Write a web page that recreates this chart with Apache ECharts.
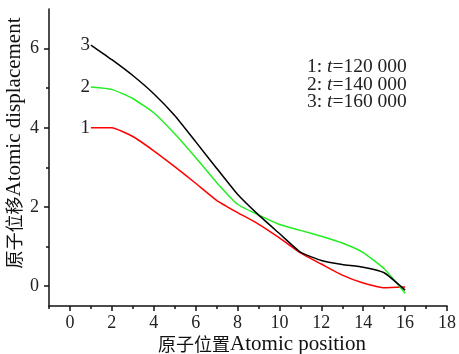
<!DOCTYPE html>
<html><head><meta charset="utf-8">
<script src="https://cdn.jsdelivr.net/npm/echarts@6/dist/echarts.min.js"></script>
<style>html,body{margin:0;padding:0;background:#fff}#c{width:459px;height:354px}</style>
</head><body><div id="c"></div>
<script>
const positions = [1,2,3,4,5,6,7,8,9,10,11,12,13,14,15,16];
const series1 = [4.0,4.0,3.78,3.42,3.02,2.6,2.17,1.86,1.57,1.22,0.84,0.56,0.28,0.08,-0.04,-0.02];
const series2 = [5.03,4.97,4.74,4.38,3.85,3.25,2.62,2.07,1.80,1.56,1.41,1.26,1.09,0.85,0.44,-0.18];
const series3 = [6.09,5.72,5.32,4.86,4.31,3.65,2.98,2.32,1.80,1.33,0.86,0.65,0.55,0.48,0.34,-0.10];
const seriesNames = ['1','2','3'];
const legendLines = [['1','120 000'],['2','140 000'],['3','160 000']];
const xMajor = [0,2,4,6,8,10,12,14,16,18];
const xMinor = [-1,1,3,5,7,9,11,13,15,17];
const yMajor = [0,2,4,6];
const yMinor = [1,3,5];
const xName = ['原子位置','Atomic position'];
const yName = ['原子位移','Atomic displacement'];

const serif = '"Liberation Serif","Times New Roman",serif';
const cjk = '"Noto Sans CJK SC",sans-serif';
const chart = echarts.init(document.getElementById('c'));
function mk(name, vals, color){
  return {
    type:'line', name, xAxisIndex:0, yAxisIndex:0,
    data: vals.map((v,i)=>[positions[i], v]),
    showSymbol:false, symbol:'none', smooth:0.15,
    lineStyle:{color, width:1.5}, itemStyle:{color},
    markPoint:{
      symbol:'circle', symbolSize:0, silent:true, animation:false,
      data:[{coord:[positions[0], vals[0]], value:name}],
      label:{show:true, position:'left', distance:1, formatter:name,
        fontFamily:serif, fontSize:19, color:'#222'}
    },
    animation:false
  };
}
const nameRich = {
  c:{fontFamily:cjk, fontSize:18, fill:'#111', fontWeight:'normal'},
  l:{fontFamily:serif, fontSize:21, fill:'#111'}
};
chart.setOption({
  animation:false,
  grid:{left:49, right:10, top:9, bottom:48, containLabel:false},
  xAxis:[
    {type:'value', min:-1, max:18, position:'bottom',
      axisLine:{show:true, onZero:false, lineStyle:{color:'#111', width:1.5}},
      splitLine:{show:false},
      axisTick:{show:true, customValues:xMajor, length:5, lineStyle:{color:'#111', width:1.5}},
      axisLabel:{customValues:xMajor, fontFamily:serif, fontSize:18, color:'#222', margin:8}
    },
    {type:'value', min:-1, max:18, position:'bottom', axisLine:{show:false, onZero:false},
      axisTick:{show:true, customValues:xMinor, length:3, lineStyle:{color:'#111', width:1.5}},
      axisLabel:{show:false}, splitLine:{show:false}}
  ],
  yAxis:[
    {type:'value', min:-0.5, max:7, position:'left',
      axisLine:{show:true, onZero:false, lineStyle:{color:'#111', width:1.5}},
      splitLine:{show:false},
      axisTick:{show:true, customValues:yMajor, length:5, lineStyle:{color:'#111', width:1.5}},
      axisLabel:{customValues:yMajor, fontFamily:serif, fontSize:18, color:'#222', margin:10}
    },
    {type:'value', min:-0.5, max:7, position:'left', axisLine:{show:false, onZero:false},
      axisTick:{show:true, customValues:yMinor, length:3, lineStyle:{color:'#111', width:1.5}},
      axisLabel:{show:false}, splitLine:{show:false}}
  ],
  graphic:[{
    type:'text', left:307, top:57,
    style:{
      text: legendLines.map(l=>`{n|${l[0]}: }{t|t}{n|=${l[1]}}`).join('\n'),
      rich:{
        n:{fontFamily:serif, fontSize:19.5, fill:'#222', lineHeight:17.5},
        t:{fontFamily:serif, fontSize:19.5, fontStyle:'italic', fill:'#222', lineHeight:17.5}
      }
    }
  },{
    type:'text', x:262, y:344,
    style:{text:`{c|${xName[0]}}{l|${xName[1]}}`, rich:nameRich, align:'center', verticalAlign:'middle'}
  },{
    type:'text', x:14, y:143, rotation:Math.PI/2,
    style:{text:`{c|${yName[0]}}{l|${yName[1]}}`, rich:nameRich, align:'center', verticalAlign:'middle'}
  }],
  series:[mk(seriesNames[0], series1, '#ff0000'), mk(seriesNames[1], series2, '#22ee22'), mk(seriesNames[2], series3, '#000000')]
});
</script></body></html>
